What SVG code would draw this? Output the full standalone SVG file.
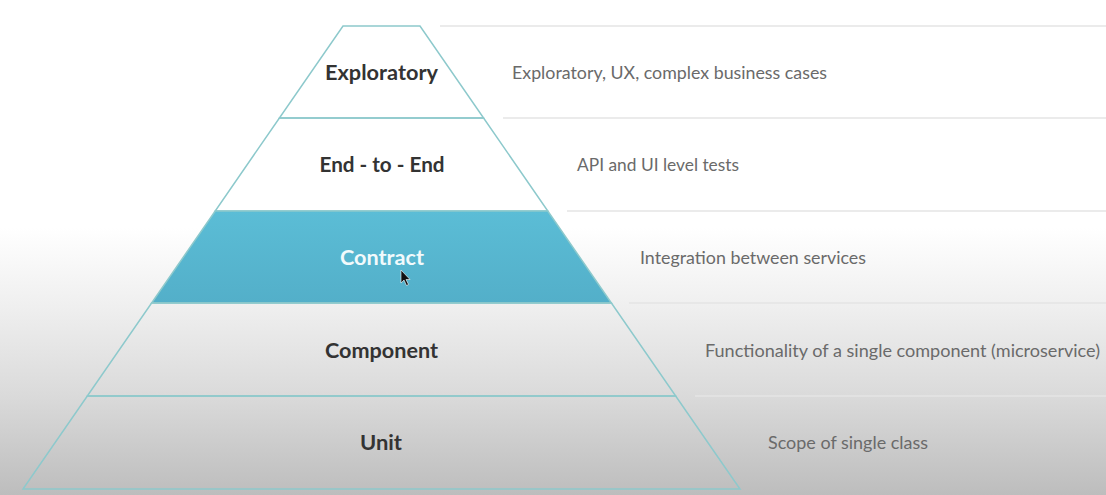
<svg xmlns="http://www.w3.org/2000/svg" width="1106" height="495" viewBox="0 0 1106 495">
  <defs>
    <linearGradient id="bg" x1="0" y1="0" x2="0" y2="1">
      <stop offset="0" stop-color="#ffffff"/>
      <stop offset="0.46" stop-color="#ffffff"/>
      <stop offset="0.62" stop-color="#efefef"/>
      <stop offset="0.8" stop-color="#dadada"/>
      <stop offset="1" stop-color="#bdbdbd"/>
    </linearGradient>
    <linearGradient id="blue" x1="0" y1="0" x2="0" y2="1">
      <stop offset="0" stop-color="#5bbdd6"/>
      <stop offset="1" stop-color="#53afc9"/>
    </linearGradient>
    <style>
      .edge { fill: none; stroke: #8dc9cc; stroke-width: 1.5; }
      .rule { fill: none; stroke: #e4e4e4; stroke-width: 1.5; }
      .lbl { font-family: Lato, "Liberation Sans", sans-serif; font-weight: bold; font-size: 21.5px; fill: #333333; text-anchor: middle; }
      .desc { font-family: Lato, "Liberation Sans", sans-serif; font-size: 17px; fill: #6a6a6a; }
    </style>
  </defs>
  <rect x="0" y="0" width="1106" height="495" fill="url(#bg)"/>

  <g id="rules">
    <line class="rule" x1="440" y1="26" x2="1106" y2="26"/>
    <line class="rule" x1="503" y1="118" x2="1106" y2="118"/>
    <line class="rule" x1="567" y1="211" x2="1106" y2="211"/>
    <line class="rule" x1="629" y1="303" x2="1106" y2="303"/>
    <line class="rule" x1="695" y1="396" x2="1106" y2="396"/>
  </g>

  <g id="exploratory">
    <polygon class="edge" points="343,26 420,26 483.6,118 279.4,118"/>
    <text class="lbl" x="381.5" y="80" textLength="113" lengthAdjust="spacingAndGlyphs">Exploratory</text>
    <text class="desc" x="512" y="79" textLength="315" lengthAdjust="spacingAndGlyphs">Exploratory, UX, complex business cases</text>
  </g>
  <g id="end-to-end">
    <polygon class="edge" points="279.4,118 483.6,118 547.8,211 215.2,211"/>
    <text class="lbl" x="382" y="172" textLength="125" lengthAdjust="spacingAndGlyphs">End - to - End</text>
    <text class="desc" x="577" y="171" textLength="162" lengthAdjust="spacingAndGlyphs">API and UI level tests</text>
  </g>
  <g id="contract">
    <polygon points="215.2,211 547.8,211 611.4,303 151.6,303" fill="url(#blue)" stroke="#8dc9cc" stroke-width="1.5"/>
    <text class="lbl" x="382" y="265" style="fill:#f2fafc" textLength="84" lengthAdjust="spacingAndGlyphs">Contract</text>
    <text class="desc" x="640" y="264" textLength="226" lengthAdjust="spacingAndGlyphs">Integration between services</text>
  </g>
  <g id="component">
    <polygon class="edge" points="151.6,303 611.4,303 675.7,396 87.3,396"/>
    <text class="lbl" x="381.5" y="358" textLength="113" lengthAdjust="spacingAndGlyphs">Component</text>
    <text class="desc" x="705" y="357" textLength="395" lengthAdjust="spacingAndGlyphs">Functionality of a single component (microservice)</text>
  </g>
  <g id="unit">
    <polygon class="edge" points="87.3,396 675.7,396 740,489 23,489"/>
    <text class="lbl" x="381" y="450" textLength="42" lengthAdjust="spacingAndGlyphs">Unit</text>
    <text class="desc" x="768" y="449" textLength="160" lengthAdjust="spacingAndGlyphs">Scope of single class</text>
  </g>

  <g id="cursor">
    <path d="M401,270 L401,283 L404,280 L406.5,285.5 L408.5,284.5 L406,279.5 L410,279.5 Z" fill="#111111" stroke="#ffffff" stroke-width="0.6"/>
  </g>
</svg>
